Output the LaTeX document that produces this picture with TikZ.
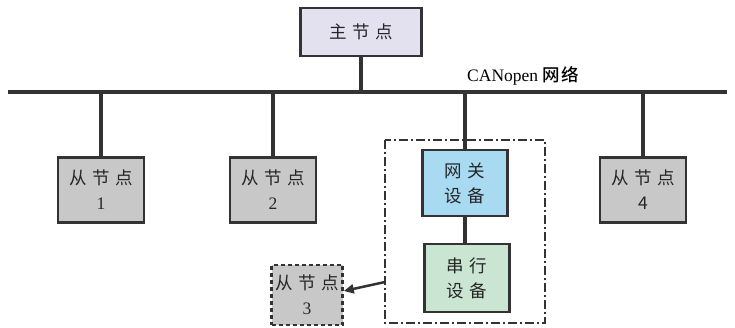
\documentclass[tikz,border=0pt]{standalone}
\usepackage{fontspec}
\setmainfont{Liberation Serif}
\newfontfamily\cjk[LetterSpace=30]{Noto Sans CJK SC}
\newfontfamily\cjkr{Noto Sans CJK SC}
\newfontfamily\cjkb[LetterSpace=10]{Noto Sans CJK SC Medium}
\usetikzlibrary{arrows.meta}
\definecolor{edge}{HTML}{333333}
\definecolor{mainfill}{HTML}{E3E1EF}
\definecolor{slavefill}{HTML}{C9C8C8}
\definecolor{gwfill}{HTML}{A8DAF2}
\definecolor{serfill}{HTML}{CBE5D3}
\tikzset{
  box/.style={draw=edge, line width=2.6pt, inner sep=0pt, font=\fontsize{17.5}{25}\selectfont, align=center, text=black!85},
  slavebox/.style={box, fill=slavefill, minimum width=86pt, minimum height=65pt},
  link/.style={draw=edge, line width=3.5pt},
}
\begin{document}
\begin{tikzpicture}[x=1pt,y=-1pt]
\useasboundingbox[fill=white] (0,0) rectangle (735,327);
% group box
\draw[edge, line width=2.2pt, dash pattern=on 9pt off 3pt on 2pt off 3pt] (385,140) rectangle (545,323);
% bus
\coordinate (busL) at (8,92);
\coordinate (busR) at (727,92);
\draw[edge, line width=4.5pt] (busL) -- (busR);
\node[box, fill=mainfill, minimum width=121pt, minimum height=48pt] (main) at (361,32) {{\cjk 主节点}};
\node[font=\fontsize{17.5}{18}\selectfont, anchor=west, inner sep=0pt] (can) at (467,76) {CANopen {\cjkb 网络}};
\node[slavebox] (s1) at (101,190) {{\cjk 从节点}\\1};
\node[slavebox] (s2) at (273,190) {{\cjk 从节点}\\2};
\node[slavebox] (s4) at (643,190) {{\cjk 从节点}\\{\cjkr 4}};
\node[box, fill=gwfill, minimum width=85pt, minimum height=66pt] (gw) at (465,183) {{\cjk 网关}\\{\cjk 设备}};
\node[box, fill=serfill, minimum width=85pt, minimum height=68pt] (ser) at (467,278) {{\cjk 串行}\\{\cjk 设备}};
\node[box, fill=slavefill, dashed, dash pattern=on 4pt off 3pt, minimum width=71pt, minimum height=60pt] (s3) at (307,295) {{\cjk 从节点}\\3};
\draw[link] (main.south) -- (main.south |- busL);
\draw[link] (s1.north) -- (s1.north |- busL);
\draw[link] (s2.north) -- (s2.north |- busL);
\draw[link] (s4.north) -- (s4.north |- busL);
\draw[link] (gw.north) -- (gw.north |- busL);
\draw[link] (gw.south) -- (gw.south |- ser.north);
\coordinate (gl) at (385,282);
\draw[draw=edge, line width=2.5pt, -{Triangle[length=10pt,width=9pt]}] (gl) -- (s3.east |- 0,291);
\end{tikzpicture}
\end{document}
